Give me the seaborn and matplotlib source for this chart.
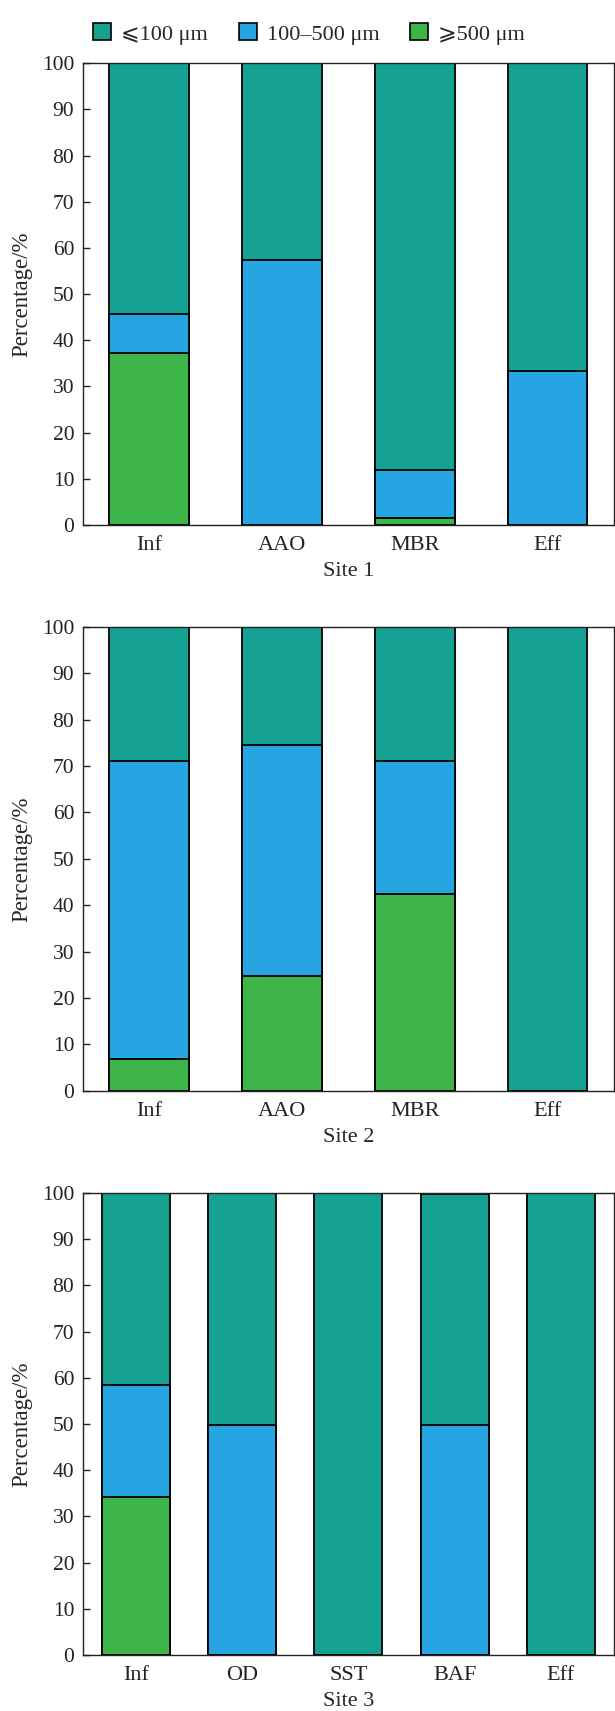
import matplotlib
matplotlib.use("Agg")
import matplotlib.pyplot as plt
import seaborn as sns
import pandas as pd
from matplotlib.patches import Patch

# Particle-size composition (%) of microplastics along each treatment train
site1_stages = ["Inf", "AAO", "MBR", "Eff"]
site1_large = [37.2, 0.0, 1.6, 0.0]      # >=500 um
site1_mid = [8.4, 57.3, 10.3, 33.3]      # 100-500 um
site1_small = [54.4, 42.7, 88.1, 66.7]   # <=100 um

site2_stages = ["Inf", "AAO", "MBR", "Eff"]
site2_large = [6.9, 24.7, 42.4, 0.0]
site2_mid = [64.2, 49.9, 28.7, 0.0]
site2_small = [28.9, 25.4, 28.9, 100.0]

site3_stages = ["Inf", "OD", "SST", "BAF", "Eff"]
site3_large = [34.3, 0.0, 0.0, 0.0, 0.0]
site3_mid = [24.2, 49.8, 0.0, 49.7, 0.0]
site3_small = [41.5, 50.2, 100.0, 50.0, 100.0]

size_labels = ["⩽100 μm", "100–500 μm", "⩾500 μm"]
site_titles = ["Site 1", "Site 2", "Site 3"]
y_ticks = [0, 10, 20, 30, 40, 50, 60, 70, 80, 90, 100]

teal = "#15A292"
blue = "#27A5E2"
green = "#3DB54A"

sns.set_theme(style="white")
plt.rcParams["font.family"] = ["Liberation Serif", "DejaVu Serif", "DejaVu Sans"]
plt.rcParams["axes.edgecolor"] = "#222222"
plt.rcParams["axes.linewidth"] = 1.0

W, H = 615, 1711
fig = plt.figure(figsize=(W / 100, H / 100), dpi=100)

# axes boxes in pixels: (left, top, right, bottom)
boxes = [(82.7, 63.3, 614, 525.0),
         (82.7, 627.0, 614, 1090.7),
         (82.7, 1193.0, 614, 1655.0)]

sites = [
    (site1_stages, site1_large, site1_mid, site1_small, 0.6),
    (site2_stages, site2_large, site2_mid, site2_small, 0.6),
    (site3_stages, site3_large, site3_mid, site3_small, 0.64),
]

for (l, t, r, b), (stages, large, mid, small, bw), title in zip(boxes, sites, site_titles):
    ax = fig.add_axes([l / W, 1 - b / H, (r - l) / W, (b - t) / H])
    df = pd.DataFrame({"stage": stages, "large": large, "mid": mid, "small": small})
    df["lower"] = df["large"]
    df["middle"] = df["large"] + df["mid"]
    df["total"] = df["middle"] + df["small"]
    edge = dict(edgecolor="black", linewidth=1.3, saturation=1, width=bw)
    # stack by overdrawing cumulative heights, tallest first
    sns.barplot(data=df, x="stage", y="total", color=teal, ax=ax, **edge)
    sns.barplot(data=df, x="stage", y="middle", color=blue, ax=ax, **edge)
    sns.barplot(data=df, x="stage", y="lower", color=green, ax=ax, **edge)
    ax.set_ylim(0, 100)
    ax.set_xlim(-0.5, len(stages) - 0.5)
    ax.set_yticks(y_ticks)
    ax.set_ylabel("Percentage/%", fontsize=16.5)
    ax.set_xlabel(title, fontsize=16, labelpad=5)
    ax.tick_params(axis="y", direction="in", length=5, width=1.0,
                   labelsize=15.5, pad=6, left=True, colors="#222222")
    ax.tick_params(axis="x", length=0, labelsize=16, pad=8, colors="#222222")
    for s in ax.spines.values():
        s.set_visible(True)
    ax.yaxis.set_label_coords(-0.095, 0.5)

handles = [Patch(facecolor=c, edgecolor="black", linewidth=1.2) for c in (teal, blue, green)]
fig.legend(handles, size_labels, loc="center", bbox_to_anchor=(309 / W, 1 - 34 / H),
           ncol=3, frameon=False, fontsize=16, handlelength=0.8, handleheight=0.8,
           handletextpad=0.45, columnspacing=1.4, borderaxespad=0)

fig.savefig("out.png", dpi=100, facecolor="white")
